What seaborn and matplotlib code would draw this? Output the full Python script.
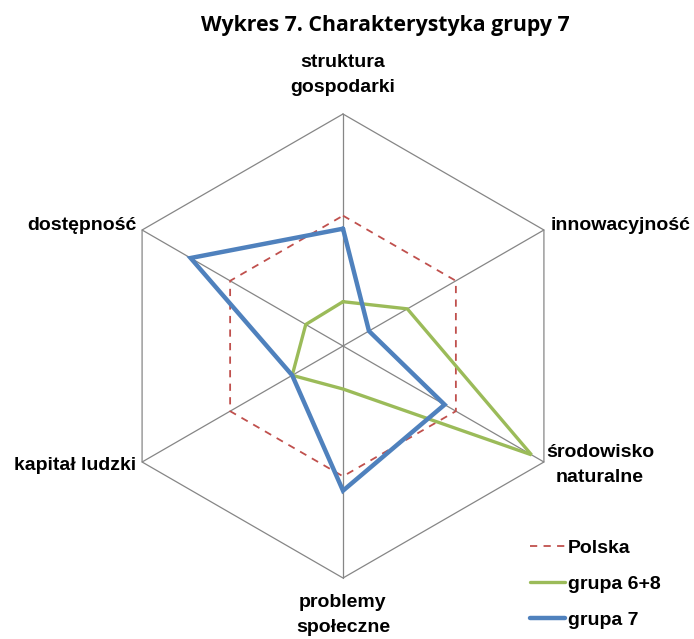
import numpy as np
import pandas as pd
import matplotlib
matplotlib.use("Agg")
import matplotlib.pyplot as plt
import seaborn as sns

# values (Polska = 1)
categories = ["struktura\ngospodarki", "innowacyjność", "środowisko\nnaturalne",
              "problemy\nspołeczne", "kapitał ludzki", "dostępność"]
polska = [1.0, 1.0, 1.0, 1.0, 1.0, 1.0]
grupa_68 = [0.34, 0.57, 1.67, 0.33, 0.45, 0.33]
grupa_7 = [0.90, 0.23, 0.90, 1.11, 0.45, 1.35]
series_names = ["Polska", "grupa 6+8", "grupa 7"]
r_max = 1.78

sns.set_style("white")
plt.rcParams["font.family"] = ["Liberation Sans", "DejaVu Sans"]
plt.rcParams["text.color"] = "black"

# axis angles, clockwise from the top
angles = np.deg2rad(90 - 60 * np.arange(len(categories)))


def to_xy(values):
    r = np.asarray(values) / r_max
    x = r * np.cos(angles)
    y = r * np.sin(angles)
    # close the polygon
    return np.append(x, x[0]), np.append(y, y[0])


def px(x, y):
    # pixel position in the picture -> data coords (centre 343,346; radius 232 px)
    return (x - 343) / 232, (346 - y) / 232


fig = plt.figure(figsize=(6.94, 6.39), dpi=100)
ax = fig.add_axes([0, 0, 1, 1])
ax.set_xlim(-343 / 232, (694 - 343) / 232)
ax.set_ylim(-(639 - 346) / 232, 346 / 232)
ax.axis("off")

# hexagon frame and spokes
gx, gy = to_xy([r_max] * len(categories))
ax.plot(gx, gy, color="#868686", lw=0.9, zorder=1)
for a in angles:
    ax.plot([0, np.cos(a)], [0, np.sin(a)], color="#868686", lw=0.9, zorder=1)

styles = {
    "Polska": dict(color="#C0504D", lw=1.3, ls=(0, (4, 3.5))),
    "grupa 6+8": dict(color="#9BBB59", lw=2.4, ls="-"),
    "grupa 7": dict(color="#4F81BD", lw=3.2, ls="-"),
}
for name, vals in zip(series_names, [polska, grupa_68, grupa_7]):
    x, y = to_xy(vals)
    df = pd.DataFrame({"x": x, "y": y})
    st = styles[name]
    sns.lineplot(data=df, x="x", y="y", sort=False, estimator=None, errorbar=None,
                 ax=ax, color=st["color"], lw=st["lw"], linestyle=st["ls"],
                 label=name, zorder=3, solid_joinstyle="miter")

lab_kw = dict(fontsize=14, fontweight="bold", color="black", linespacing=1.55)
ax.text(*px(343, 75), categories[0], ha="center", va="center", **lab_kw)
ax.text(*px(551, 226), categories[1], ha="left", va="center", **lab_kw)
ax.text(*px(600, 465), categories[2], ha="center", va="center", **lab_kw)
ax.text(*px(343, 615), categories[3], ha="center", va="center", **lab_kw)
ax.text(*px(136, 466), categories[4], ha="right", va="center", **lab_kw)
ax.text(*px(136, 226), categories[5], ha="right", va="center", **lab_kw)

fig.text(385 / 694, 1 - 25 / 639, "Wykres 7. Charakterystyka grupy 7", ha="center", va="center",
         fontsize=15.3, fontweight="bold", family=["Open Sans", "DejaVu Sans"])

leg = ax.legend(loc="upper left", bbox_to_anchor=(530 / 694, 1 - 539 / 639),
                bbox_transform=fig.transFigure, frameon=False, borderpad=0,
                borderaxespad=0, handlelength=1.8, handletextpad=0.15,
                labelspacing=0.95, prop=dict(size=14, weight="bold"))
for t in leg.get_texts():
    t.set_color("black")

fig.savefig("out.png", dpi=100)
